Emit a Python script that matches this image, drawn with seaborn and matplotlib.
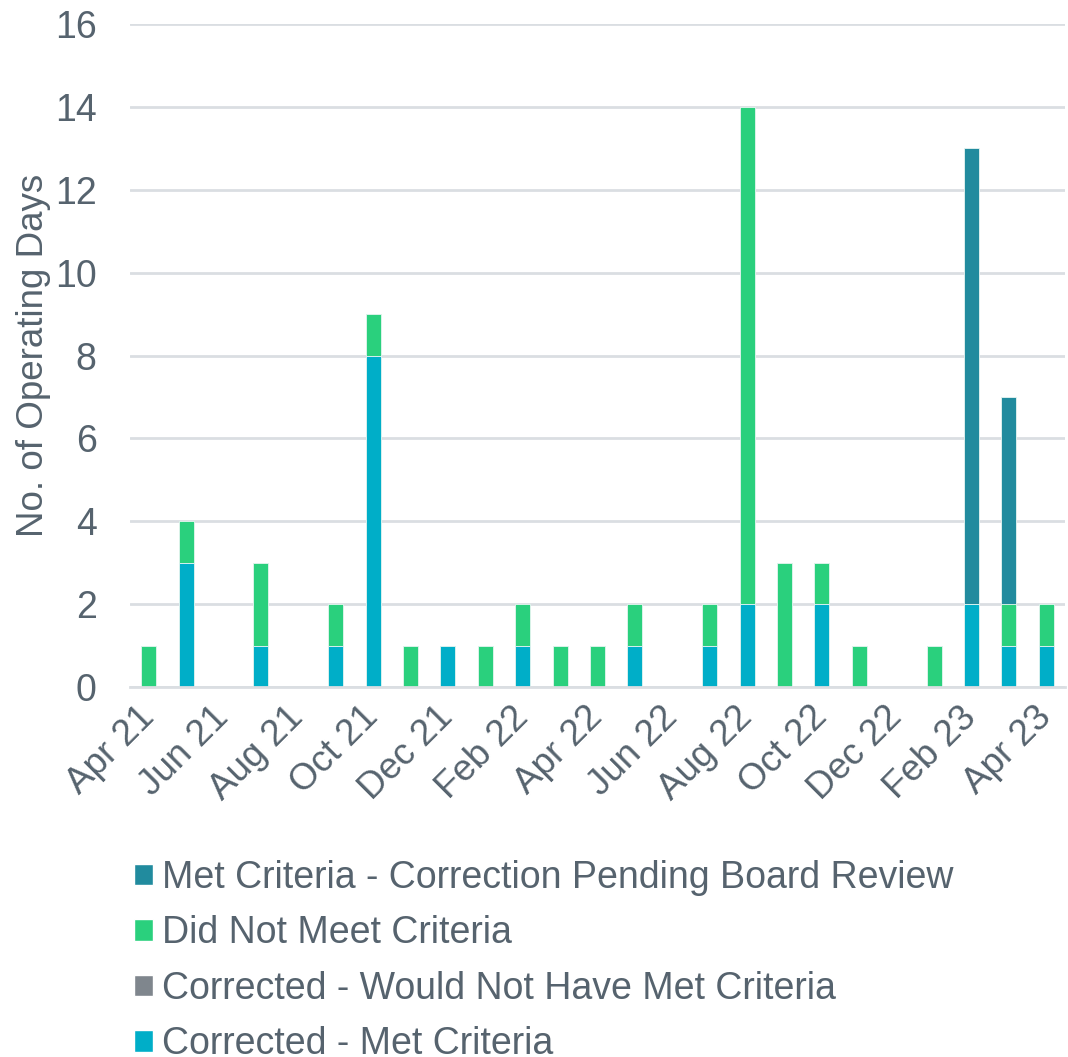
import matplotlib
matplotlib.use("Agg")
import matplotlib.pyplot as plt
from matplotlib.patches import Patch
import seaborn as sns
import pandas as pd
import numpy as np

months = ["Apr 21", "May 21", "Jun 21", "Jul 21", "Aug 21", "Sep 21", "Oct 21", "Nov 21",
          "Dec 21", "Jan 22", "Feb 22", "Mar 22", "Apr 22", "May 22", "Jun 22", "Jul 22",
          "Aug 22", "Sep 22", "Oct 22", "Nov 22", "Dec 22", "Jan 23", "Feb 23", "Mar 23", "Apr 23"]
corrected_met = [0, 3, 0, 1, 0, 1, 8, 0, 1, 0, 1, 0, 0, 1, 0, 1, 2, 0, 2, 0, 0, 0, 2, 1, 1]
corrected_not_met = [0] * 25
did_not_meet = [1, 1, 0, 2, 0, 1, 1, 1, 0, 1, 1, 1, 1, 1, 0, 1, 12, 3, 1, 1, 0, 1, 0, 1, 1]
pending_review = [0, 0, 0, 0, 0, 0, 0, 0, 0, 0, 0, 0, 0, 0, 0, 0, 0, 0, 0, 0, 0, 0, 11, 5, 0]

series_names = ["Corrected - Met Criteria", "Corrected - Would Not Have Met Criteria",
                "Did Not Meet Criteria", "Met Criteria - Correction Pending Board Review"]
series_colors = ["#00aec8", "#7f868d", "#2ad07d", "#218b9e"]
text_color = "#56636e"
grid_color = "#dadee2"

sns.set_style("white")
plt.rcParams["font.family"] = ["Liberation Sans", "DejaVu Sans"]

df = pd.DataFrame({"month": months,
                   "s0": corrected_met, "s1": corrected_not_met,
                   "s2": did_not_meet, "s3": pending_review})
cum = np.cumsum(df[["s0", "s1", "s2", "s3"]].values, axis=1)
for i in range(4):
    df[f"c{i}"] = cum[:, i]

fig = plt.figure(figsize=(10.68, 10.57), dpi=100)
ax = fig.add_axes([130 / 1068, 1 - 687 / 1057, (1065 - 130) / 1068, (687 - 24) / 1057])

for i in reversed(range(4)):
    sns.barplot(data=df, x="month", y=f"c{i}", order=months, color=series_colors[i],
                width=0.4, ax=ax, saturation=1, edgecolor="#e8f6f2", linewidth=0.6)

ax.set_ylim(0, 16)
ax.set_xlim(-0.5, 24.5)
ax.set_yticks(range(0, 17, 2))
ax.yaxis.grid(True, color=grid_color, linewidth=2)
ax.set_axisbelow(True)
for s in ["top", "right", "left"]:
    ax.spines[s].set_visible(False)
ax.spines["bottom"].set_color(grid_color)
ax.spines["bottom"].set_linewidth(2)

ax.set_xticks(range(0, 25, 2))
ax.set_xticklabels(months[::2], rotation=45, ha="right", va="center", rotation_mode="anchor")
ax.set_xticks(np.arange(-0.5, 24, 2), minor=True)
ax.tick_params(axis="x", which="major", length=0, labelsize=26.5, labelcolor=text_color, pad=18)
ax.tick_params(axis="x", which="minor", length=11, width=2, color=grid_color, direction="out")
ax.tick_params(axis="y", length=0, labelsize=27, labelcolor=text_color, pad=24)

ax.set_xlabel("")
ax.set_ylabel("No. of Operating Days", fontsize=26.5, color=text_color, labelpad=3)

handles = [Patch(facecolor=series_colors[i], label=series_names[i]) for i in reversed(range(4))]
fig.legend(handles=handles, loc="upper left", bbox_to_anchor=(100 / 1068, 1 - 826 / 1057),
           frameon=False, fontsize=27, labelcolor=text_color, handlelength=0.5,
           handleheight=0.5, handletextpad=0.25, labelspacing=0.52)

fig.savefig("out.png", dpi=100)
